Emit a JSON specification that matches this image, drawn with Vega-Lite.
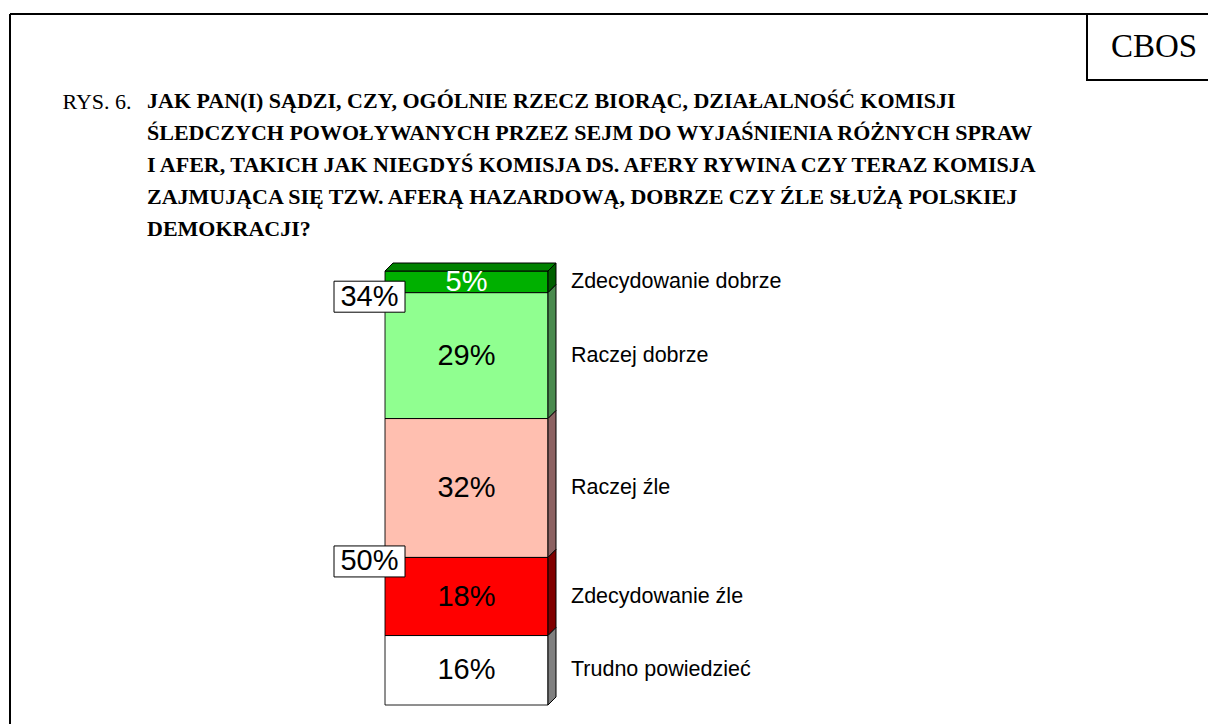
{
  "$schema": "https://vega.github.io/schema/vega-lite/v6.json",
  "width": 1198,
  "height": 710,
  "padding": {"left": 10, "top": 14, "right": 0, "bottom": 0},
  "autosize": {"type": "none"},
  "background": "white",
  "title": {
    "text": [
      "JAK PAN(I) SĄDZI, CZY, OGÓLNIE RZECZ BIORĄC, DZIAŁALNOŚĆ KOMISJI",
      "ŚLEDCZYCH POWOŁYWANYCH PRZEZ SEJM DO WYJAŚNIENIA RÓŻNYCH SPRAW",
      "I AFER, TAKICH JAK NIEGDYŚ KOMISJA DS. AFERY RYWINA CZY TERAZ KOMISJA",
      "ZAJMUJĄCA SIĘ TZW. AFERĄ HAZARDOWĄ, DOBRZE CZY ŹLE SŁUŻĄ POLSKIEJ",
      "DEMOKRACJI?"
    ],
    "anchor": "start",
    "frame": "group",
    "orient": "top",
    "offset": 0,
    "font": "Liberation Serif",
    "fontSize": 22,
    "fontWeight": "bold",
    "color": "black",
    "lineHeight": 32,
    "dx": 137,
    "dy": 228
  },
  "data": {
    "values": [
      {"grupa": "Ogółem", "odpowiedz": "Zdecydowanie dobrze", "ocena": "dobrze", "udzial": 0.05, "kolejnosc": 5},
      {"grupa": "Ogółem", "odpowiedz": "Raczej dobrze", "ocena": "dobrze", "udzial": 0.29, "kolejnosc": 4},
      {"grupa": "Ogółem", "odpowiedz": "Raczej źle", "ocena": "źle", "udzial": 0.32, "kolejnosc": 3},
      {"grupa": "Ogółem", "odpowiedz": "Zdecydowanie źle", "ocena": "źle", "udzial": 0.18, "kolejnosc": 2},
      {"grupa": "Ogółem", "odpowiedz": "Trudno powiedzieć", "ocena": "trudno powiedzieć", "udzial": 0.16, "kolejnosc": 1}
    ]
  },
  "resolve": {"scale": {"fill": "independent"}},
  "layer": [
    {
      "transform": [
        {"stack": "udzial", "groupby": ["grupa"], "sort": [{"field": "kolejnosc", "order": "ascending"}], "as": ["y0", "y1"]}
      ],
      "mark": {"type": "bar", "stroke": "black", "strokeWidth": 1, "opacity": 1},
      "encoding": {
        "x": {"field": "grupa", "type": "nominal", "axis": null,
              "scale": {"type": "band", "range": [375, 538], "paddingInner": 0, "paddingOuter": 0}},
        "y": {"field": "y1", "type": "quantitative",
              "scale": {"domain": [0, 1], "range": [691, 257], "nice": false, "zero": false},
              "axis": {"title": "RYS. 6.", "domain": false, "ticks": false, "labels": false, "grid": false,
                       "titleAngle": 0, "titleX": 52, "titleY": 94.5, "titleAlign": "left",
                       "titleBaseline": "alphabetic", "titleFont": "Liberation Serif", "titleFontSize": 22,
                       "titleFontWeight": "normal", "titleColor": "black", "zindex": 2}},
        "y2": {"field": "y0"},
        "fill": {"field": "odpowiedz", "type": "nominal", "legend": null,
                 "scale": {"domain": ["Zdecydowanie dobrze", "Raczej dobrze", "Raczej źle", "Zdecydowanie źle", "Trudno powiedzieć"],
                           "range": ["#00B000", "#90FF90", "#FFBFB0", "#FF0000", "#FFFFFF"]}},
        "strokeDash": {"datum": "CBOS", "type": "nominal", "scale": {"range": [[1, 0]]},
                       "legend": {"orient": "none", "legendX": 1077, "legendY": 0, "title": null,
                                  "padding": 16, "labelFont": "Liberation Serif", "labelFontSize": 33,
                                  "labelColor": "black", "symbolSize": 9, "symbolOpacity": 0,
                                  "symbolStrokeWidth": 0, "labelOffset": -25,
                                  "fillColor": "white", "strokeColor": "black"}}
      }
    },
    {
      "transform": [
        {"aggregate": [{"op": "sum", "field": "udzial", "as": "suma"}], "groupby": ["grupa"]}
      ],
      "mark": {"type": "point", "filled": true, "opacity": 1, "size": 40000,
               "shape": "M-0.815,0L0.815,0L0.895,-0.08L-0.735,-0.08Z",
               "fill": "#008200", "stroke": "black", "strokeWidth": 1},
      "encoding": {
        "x": {"field": "grupa", "type": "nominal", "axis": null},
        "y": {"field": "suma", "type": "quantitative",
              "axis": {"title": "RYS. 6.", "domain": false, "ticks": false, "labels": false, "grid": false,
                       "titleAngle": 0, "titleX": 52, "titleY": 94.5, "titleAlign": "left",
                       "titleBaseline": "alphabetic", "titleFont": "Liberation Serif", "titleFontSize": 22,
                       "titleFontWeight": "normal", "titleColor": "black", "zindex": 2}}
      }
    },
    {
      "transform": [
        {"stack": "udzial", "groupby": ["grupa"], "sort": [{"field": "kolejnosc", "order": "ascending"}], "as": ["y0", "y1"]}
      ],
      "mark": {"type": "point", "filled": true, "opacity": 1, "size": 40000, "stroke": "black", "strokeWidth": 1},
      "encoding": {
        "x": {"field": "grupa", "type": "nominal", "axis": null},
        "y": {"field": "y1", "type": "quantitative",
              "axis": {"title": "RYS. 6.", "domain": false, "ticks": false, "labels": false, "grid": false,
                       "titleAngle": 0, "titleX": 52, "titleY": 94.5, "titleAlign": "left",
                       "titleBaseline": "alphabetic", "titleFont": "Liberation Serif", "titleFontSize": 22,
                       "titleFontWeight": "normal", "titleColor": "black", "zindex": 2}},
        "shape": {"field": "odpowiedz", "type": "nominal", "legend": null,
                  "scale": {"domain": ["Zdecydowanie dobrze", "Raczej dobrze", "Raczej źle", "Zdecydowanie źle", "Trudno powiedzieć"],
                            "range": ["M0.815,0L0.895,-0.08L0.895,0.137L0.815,0.217Z",
                                      "M0.815,0L0.895,-0.08L0.895,1.1786L0.815,1.2586Z",
                                      "M0.815,0L0.895,-0.08L0.895,1.3088L0.815,1.3888Z",
                                      "M0.815,0L0.895,-0.08L0.895,0.7012L0.815,0.7812Z",
                                      "M0.815,0L0.895,-0.08L0.895,0.6144L0.815,0.6944Z"]}},
        "fill": {"field": "odpowiedz", "type": "nominal", "legend": null,
                 "scale": {"domain": ["Zdecydowanie dobrze", "Raczej dobrze", "Raczej źle", "Zdecydowanie źle", "Trudno powiedzieć"],
                           "range": ["#006000", "#4A8A4E", "#8C6262", "#800000", "#808080"]}}
      }
    },
    {
      "transform": [
        {"stack": "udzial", "groupby": ["grupa"], "sort": [{"field": "kolejnosc", "order": "ascending"}], "as": ["y0", "y1"]},
        {"aggregate": [{"op": "sum", "field": "udzial", "as": "suma"}, {"op": "min", "field": "y1", "as": "granica"}], "groupby": ["grupa", "ocena"]},
        {"filter": "datum.ocena !== 'trudno powiedzieć'"}
      ],
      "mark": {"type": "point", "filled": true, "opacity": 1, "size": 40000,
               "shape": "M-0.355,-0.155L0.355,-0.155L0.355,0.155L-0.355,0.155Z",
               "fill": "white", "stroke": "black", "strokeWidth": 1, "xOffset": -97, "yOffset": 4},
      "encoding": {
        "x": {"field": "grupa", "type": "nominal", "axis": null},
        "y": {"field": "granica", "type": "quantitative",
              "axis": {"title": "RYS. 6.", "domain": false, "ticks": false, "labels": false, "grid": false,
                       "titleAngle": 0, "titleX": 52, "titleY": 94.5, "titleAlign": "left",
                       "titleBaseline": "alphabetic", "titleFont": "Liberation Serif", "titleFontSize": 22,
                       "titleFontWeight": "normal", "titleColor": "black", "zindex": 2}}
      }
    },
    {
      "transform": [
        {"stack": "udzial", "groupby": ["grupa"], "sort": [{"field": "kolejnosc", "order": "ascending"}], "as": ["y0", "y1"]},
        {"aggregate": [{"op": "sum", "field": "udzial", "as": "suma"}, {"op": "min", "field": "y1", "as": "granica"}], "groupby": ["grupa", "ocena"]},
        {"filter": "datum.ocena !== 'trudno powiedzieć'"}
      ],
      "mark": {"type": "text", "font": "Liberation Sans", "fontSize": 29, "fill": "black",
               "align": "center", "baseline": "middle", "xOffset": -97, "yOffset": 4},
      "encoding": {
        "x": {"field": "grupa", "type": "nominal", "axis": null},
        "y": {"field": "granica", "type": "quantitative",
              "axis": {"title": "RYS. 6.", "domain": false, "ticks": false, "labels": false, "grid": false,
                       "titleAngle": 0, "titleX": 52, "titleY": 94.5, "titleAlign": "left",
                       "titleBaseline": "alphabetic", "titleFont": "Liberation Serif", "titleFontSize": 22,
                       "titleFontWeight": "normal", "titleColor": "black", "zindex": 2}},
        "text": {"field": "suma", "type": "quantitative", "format": ".0%"}
      }
    },
    {
      "transform": [
        {"stack": "udzial", "groupby": ["grupa"], "sort": [{"field": "kolejnosc", "order": "ascending"}], "as": ["y0", "y1"]},
        {"fold": ["y0", "y1"], "as": ["krawedz", "poz"]},
        {"aggregate": [{"op": "mean", "field": "poz", "as": "srodek"}], "groupby": ["grupa", "odpowiedz", "udzial", "kolejnosc"]}
      ],
      "mark": {"type": "text", "font": "Liberation Sans", "fontSize": 29, "align": "center", "baseline": "middle"},
      "encoding": {
        "x": {"field": "grupa", "type": "nominal", "axis": null},
        "y": {"field": "srodek", "type": "quantitative",
              "axis": {"title": "RYS. 6.", "domain": false, "ticks": false, "labels": false, "grid": false,
                       "titleAngle": 0, "titleX": 52, "titleY": 94.5, "titleAlign": "left",
                       "titleBaseline": "alphabetic", "titleFont": "Liberation Serif", "titleFontSize": 22,
                       "titleFontWeight": "normal", "titleColor": "black", "zindex": 2}},
        "text": {"field": "udzial", "type": "quantitative", "format": ".0%"},
        "fill": {"field": "odpowiedz", "type": "nominal", "legend": null,
                 "scale": {"domain": ["Zdecydowanie dobrze", "Raczej dobrze", "Raczej źle", "Zdecydowanie źle", "Trudno powiedzieć"],
                           "range": ["#FFFFFF", "#000000", "#000000", "#000000", "#000000"]}}
      }
    },
    {
      "transform": [
        {"stack": "udzial", "groupby": ["grupa"], "sort": [{"field": "kolejnosc", "order": "ascending"}], "as": ["y0", "y1"]},
        {"fold": ["y0", "y1"], "as": ["krawedz", "poz"]},
        {"aggregate": [{"op": "mean", "field": "poz", "as": "srodek"}], "groupby": ["grupa", "odpowiedz", "udzial", "kolejnosc"]}
      ],
      "mark": {"type": "text", "font": "Liberation Sans", "fontSize": 21.5, "fill": "black",
               "align": "left", "baseline": "middle", "xOffset": 104.5},
      "encoding": {
        "x": {"field": "grupa", "type": "nominal", "axis": null},
        "y": {"field": "srodek", "type": "quantitative",
              "axis": {"title": "RYS. 6.", "domain": false, "ticks": false, "labels": false, "grid": false,
                       "titleAngle": 0, "titleX": 52, "titleY": 94.5, "titleAlign": "left",
                       "titleBaseline": "alphabetic", "titleFont": "Liberation Serif", "titleFontSize": 22,
                       "titleFontWeight": "normal", "titleColor": "black", "zindex": 2}},
        "text": {"field": "odpowiedz", "type": "nominal"}
      }
    }
  ],
  "config": {
    "view": {"stroke": "black", "strokeWidth": 2, "strokeDash": [1198, 1908, 710, 0]},
    "legend": {"strokeWidth": 2}
  }
}
